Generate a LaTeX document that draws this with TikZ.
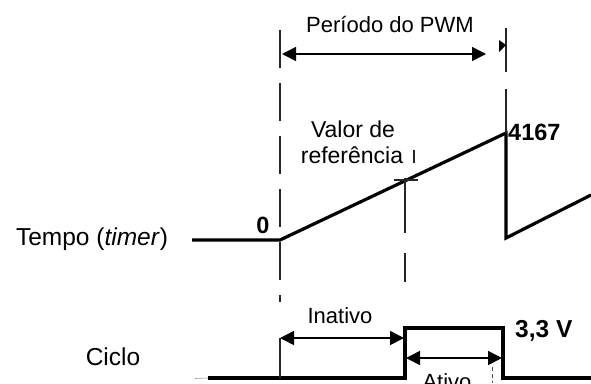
\documentclass[tikz,border=0pt]{standalone}
\usepackage{fontspec}
\setmainfont{Liberation Sans}
\usetikzlibrary{arrows.meta}
\begin{document}
\begin{tikzpicture}[x=1pt,y=-1pt,
  wave/.style={line width=3.2pt, line join=miter},
  guide/.style={line width=1.6pt, draw=black!85},
  dashguide/.style={guide, dash pattern=on 38pt off 15pt},
  dim/.style={line width=1.6pt, {Triangle[length=14pt,width=14pt]}-{Triangle[length=14pt,width=14pt]}},
  lbl/.style={font=\fontsize{22}{26}\selectfont, inner sep=0pt, anchor=base},
  biglbl/.style={font=\fontsize{24.5}{28}\selectfont, inner sep=0pt, anchor=base},
  blbl/.style={font=\fontsize{23.5}{26}\selectfont\bfseries, inner sep=0pt, anchor=base}]
\useasboundingbox (0,0) rectangle (591,383);

% timer waveform
\coordinate (t0) at (192,240);
\coordinate (r0) at (280,240);
\coordinate (rtop) at (506,133);
\coordinate (rbot) at (506,238);
\coordinate (rend) at (591,195);
\draw[wave] (t0) -- (r0) -- (rtop) -- (rbot) -- (rend);

% cycle waveform
\coordinate (b0) at (208,378);
\coordinate (b1) at (405,378);
\coordinate (b2) at (405,328);
\coordinate (b3) at (503,328);
\coordinate (b4) at (503,378);
\coordinate (b5) at (591,378);
\draw[wave] (b0) -- (b1) -- (b2) -- (b3) -- (b4) -- (b5);
\coordinate (g0) at (195,378.5);
\draw[line width=0.6pt, black!40] (g0) -- (b0);

% guide lines
\coordinate (l0) at (280,30);
\coordinate (l1) at (280,302);
\draw[dashguide] (l0) -- (l1);
\coordinate (l2) at (280,338);
\coordinate (l3) at (280,378);
\draw[guide] (l2) -- (l3);
\coordinate (m0) at (405,178);
\coordinate (m1) at (405,282);
\draw[guide, dash pattern=on 55pt off 20pt] (m0) -- (m1);
\coordinate (c0) at (394,180);
\coordinate (c1) at (418,180);
\draw[guide] (c0) -- (c1);
\coordinate (k0) at (414,150);
\coordinate (k1) at (414,163);
\draw[guide] (k0) -- (k1);
\coordinate (q0) at (506,28);
\coordinate (q1) at (506,72);
\coordinate (q2) at (506,89);
\draw[guide] (q0) -- (q1);
\draw[guide] (q2) -- (rtop);
\coordinate (s0) at (492,367);
\coordinate (s1) at (492,383);
\draw[line width=1pt, black!70, dash pattern=on 4pt off 3pt] (s0) -- (s1);
\fill (499,40) -- (506,45) -- (499,52) -- cycle;

% dimension arrows
\coordinate (pl) at (282,54);
\coordinate (pr) at (486,54);
\draw[dim] (pl) -- (pr);
\coordinate (il) at (280,338);
\coordinate (ir) at (404,338);
\draw[dim] (il) -- (ir);
\coordinate (al) at (406,358);
\coordinate (ar) at (502,358);
\draw[dim] (al) -- (ar);

% labels
\node[lbl] (period) at (390,32) {Período do PWM};
\node[lbl, font=\fontsize{23}{26}\selectfont] (valor) at (353,137) {Valor de};
\node[lbl, font=\fontsize{23}{26}\selectfont] (ref) at (352,163) {referência};
\node[blbl] (zero) at (263,233) {0};
\node[blbl, anchor=base west] (max) at (508,140) {4167};
\node[biglbl] (tempo) at (92,245) {Tempo (\textit{timer})};
\node[biglbl] (ciclo) at (113,365) {Ciclo};
\node[lbl] (inat) at (340,323) {Inativo};
\node[blbl, font=\fontsize{24.5}{28}\selectfont\bfseries, anchor=base west] (volt) at (515,337) {3,3 V};
\node[lbl] (ativo) at (447,389) {Ativo};
\end{tikzpicture}
\end{document}
